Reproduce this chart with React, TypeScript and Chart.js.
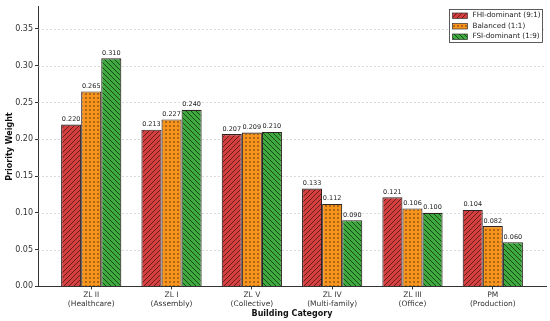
import React, { useEffect, useRef } from 'react';
import { Chart, registerables } from 'chart.js';
Chart.register(...registerables);

const categories: string[][] = [
  ['ZL II', '(Healthcare)'],
  ['ZL I', '(Assembly)'],
  ['ZL V', '(Collective)'],
  ['ZL IV', '(Multi-family)'],
  ['ZL III', '(Office)'],
  ['PM', '(Production)'],
];
const fhiDominant = [0.22, 0.213, 0.207, 0.133, 0.121, 0.104];
const balanced = [0.265, 0.227, 0.209, 0.112, 0.106, 0.082];
const fsiDominant = [0.31, 0.24, 0.21, 0.09, 0.1, 0.06];
const seriesNames = ['FHI-dominant (9:1)', 'Balanced (1:1)', 'FSI-dominant (1:9)'];
const yTicks = [0, 0.05, 0.1, 0.15, 0.2, 0.25, 0.3, 0.35];

const FONT = "'DejaVu Sans', sans-serif";

function makePattern(kind: 'fwd' | 'dots' | 'back', bg: string, fg: string): CanvasPattern | string {
  const s = kind === 'dots' ? 4 : 5;
  const c = document.createElement('canvas');
  c.width = s;
  c.height = s;
  const g = c.getContext('2d');
  if (!g) return bg;
  g.fillStyle = bg;
  g.fillRect(0, 0, s, s);
  g.strokeStyle = fg;
  g.fillStyle = fg;
  g.lineWidth = 1;
  if (kind === 'dots') {
    g.beginPath();
    g.arc(2, 2, 0.8, 0, Math.PI * 2);
    g.fill();
  } else if (kind === 'fwd') {
    g.beginPath();
    g.moveTo(-1, s + 1);
    g.lineTo(s + 1, -1);
    g.moveTo(-1, 1);
    g.lineTo(1, -1);
    g.moveTo(s - 1, s + 1);
    g.lineTo(s + 1, s - 1);
    g.stroke();
  } else {
    g.beginPath();
    g.moveTo(-1, -1);
    g.lineTo(s + 1, s + 1);
    g.moveTo(s - 1, -1);
    g.lineTo(s + 1, 1);
    g.moveTo(-1, s - 1);
    g.lineTo(1, s + 1);
    g.stroke();
  }
  return g.createPattern(c, 'repeat') || bg;
}

export default function App() {
  const ref = useRef<HTMLCanvasElement>(null);
  useEffect(() => {
    if (!ref.current) return;
    const pats = [
      makePattern('fwd', '#d43f3f', 'rgba(70,20,20,0.75)'),
      makePattern('dots', '#f7941d', 'rgba(60,30,10,0.85)'),
      makePattern('back', '#3fa83f', 'rgba(15,50,15,0.8)'),
    ];
    const series = [fhiDominant, balanced, fsiDominant];

    const gridPlugin = {
      id: 'dashGrid',
      beforeDatasetsDraw(chart: any) {
        const { ctx, chartArea, scales } = chart;
        ctx.save();
        ctx.strokeStyle = 'rgba(190,190,190,0.7)';
        ctx.lineWidth = 0.8;
        ctx.setLineDash([2, 2]);
        yTicks.forEach((t) => {
          if (t === 0) return;
          const y = Math.round(scales.y.getPixelForValue(t)) + 0.5;
          ctx.beginPath();
          ctx.moveTo(chartArea.left, y);
          ctx.lineTo(chartArea.right, y);
          ctx.stroke();
        });
        ctx.restore();
      },
    };

    const labelPlugin = {
      id: 'valLabels',
      afterDatasetsDraw(chart: any) {
        const { ctx } = chart;
        ctx.save();
        ctx.font = `6.5px ${FONT}`;
        ctx.fillStyle = '#222';
        ctx.textAlign = 'center';
        ctx.textBaseline = 'bottom';
        chart.data.datasets.forEach((ds: any, di: number) => {
          const meta = chart.getDatasetMeta(di);
          meta.data.forEach((el: any, i: number) => {
            ctx.fillText(series[di][i].toFixed(3), el.x, el.y - 2);
          });
        });
        ctx.restore();
      },
    };

    const legendPlugin = {
      id: 'boxLegend',
      afterDraw(chart: any) {
        const { ctx, chartArea } = chart;
        const right = chartArea.right - 3.5;
        const w = 93;
        const h = 33;
        const x0 = right - w;
        const y0 = 9.5;
        ctx.save();
        ctx.fillStyle = 'rgba(255,255,255,0.9)';
        ctx.fillRect(x0, y0, w, h);
        ctx.strokeStyle = '#333';
        ctx.lineWidth = 0.8;
        ctx.strokeRect(x0, y0, w, h);
        ctx.font = `7.2px ${FONT}`;
        ctx.textBaseline = 'middle';
        seriesNames.forEach((n, i) => {
          const cy = y0 + 6 + i * 10.5;
          ctx.fillStyle = pats[i] as any;
          ctx.fillRect(x0 + 3, cy - 2.5, 15, 5.5);
          ctx.strokeStyle = '#333';
          ctx.lineWidth = 0.7;
          ctx.strokeRect(x0 + 3, cy - 2.5, 15, 5.5);
          ctx.fillStyle = '#222';
          ctx.fillText(n, x0 + 23, cy);
        });
        ctx.restore();
      },
    };

    const chart = new Chart(ref.current, {
      type: 'bar',
      data: {
        datasets: series.map((vals, di) => ({
          label: seriesNames[di],
          data: vals.map((v, i) => ({ x: i, y: v })),
          backgroundColor: pats[di] as any,
          borderColor: '#2e2222',
          borderWidth: 1.1,
          categoryPercentage: 0.75,
          barPercentage: 1,
        })),
      },
      options: {
        responsive: false,
        animation: false,
        layout: { padding: { top: 6, right: 4, left: 0, bottom: 2 } },
        plugins: { legend: { display: false }, tooltip: { enabled: false } },
        scales: {
          x: {
            type: 'linear',
            offset: false,
            min: -0.6625,
            max: 5.6625,
            afterBuildTicks: (axis: any) => {
              axis.ticks = categories.map((_, i) => ({ value: i }));
            },
            ticks: {
              autoSkip: false,
              maxRotation: 0,
              padding: 1,
              color: '#333',
              font: { family: FONT, size: 7.5, lineHeight: 1.2 },
              callback: (v: any) => categories[Number(v)] || '',
            },
            grid: { drawOnChartArea: false, offset: false, tickLength: 3, tickColor: '#333' },
            border: { color: '#333', width: 1 },
            title: {
              display: true,
              text: 'Building Category',
              color: '#111',
              font: { family: FONT, size: 8, weight: 'bold' },
              padding: { top: 0, bottom: 0 },
            },
          },
          y: {
            min: 0,
            max: 0.38,
            afterBuildTicks: (axis: any) => {
              axis.ticks = yTicks.map((v) => ({ value: v }));
            },
            afterFit: (axis: any) => {
              axis.width = 38;
            },
            ticks: {
              padding: 2,
              color: '#333',
              font: { family: FONT, size: 8 },
              callback: (v: any) => Number(v).toFixed(2),
            },
            grid: { drawOnChartArea: false, tickLength: 3, tickColor: '#333' },
            border: { color: '#333', width: 1 },
            title: {
              display: true,
              text: 'Priority Weight',
              color: '#111',
              font: { family: FONT, size: 8, weight: 'bold' },
              padding: { top: 5, bottom: 0 },
            },
          },
        },
      },
      plugins: [gridPlugin, labelPlugin, legendPlugin],
    } as any);
    return () => chart.destroy();
  }, []);
  return (
    <div style={{ position: 'fixed', left: 0, top: 0, width: 550, height: 321, background: '#fff' }}>
      <canvas ref={ref} width={550} height={321} style={{ display: 'block' }} />
    </div>
  );
}
